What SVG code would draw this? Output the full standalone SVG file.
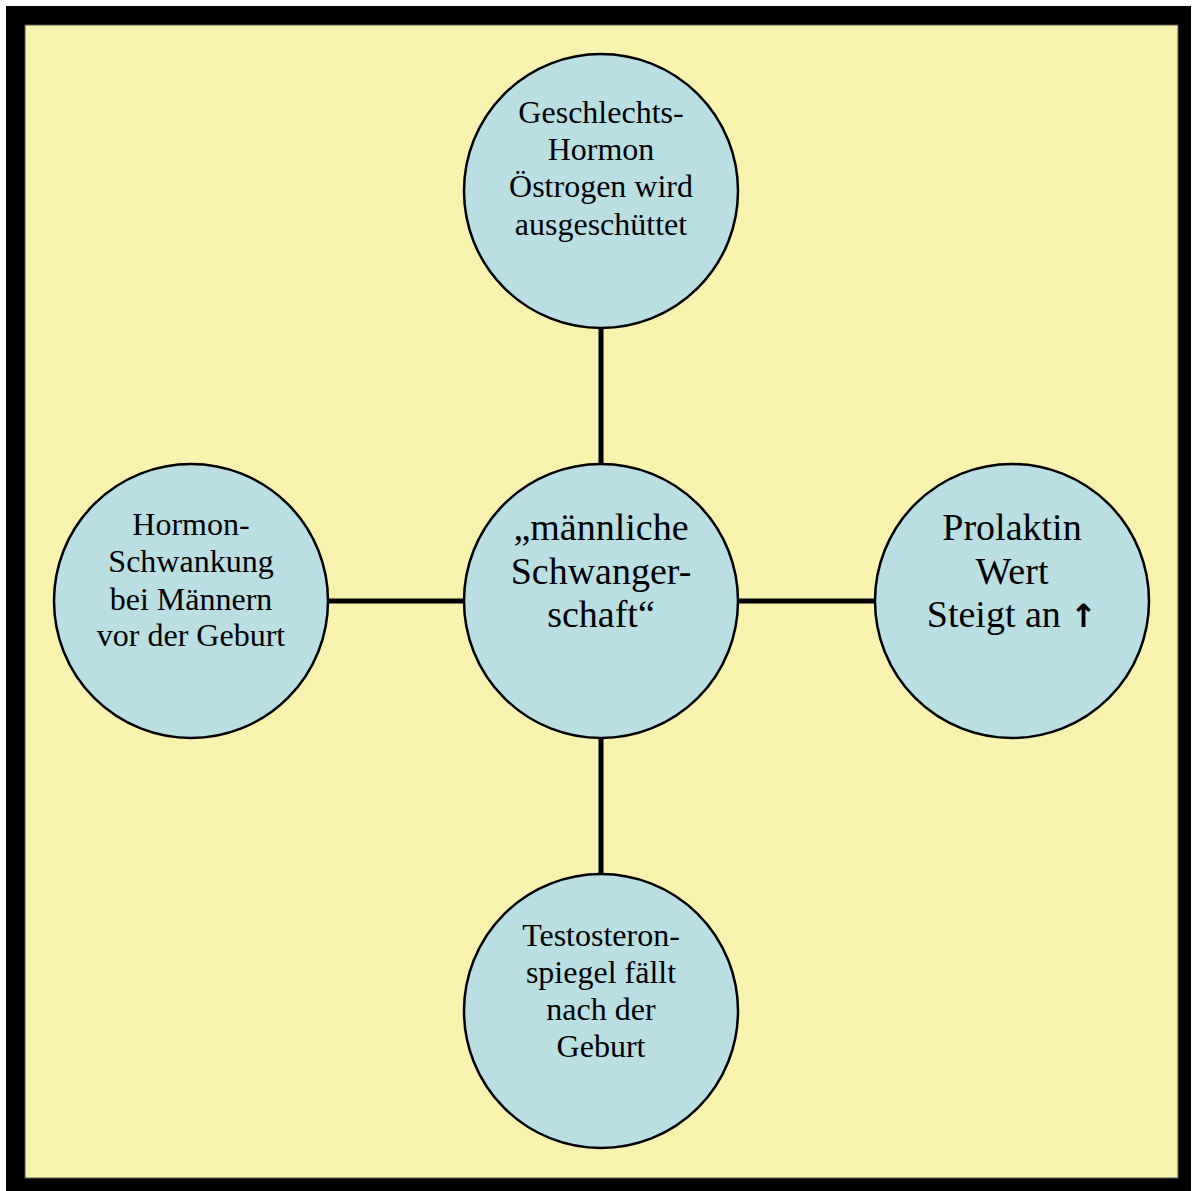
<svg xmlns="http://www.w3.org/2000/svg" width="1195" height="1191" viewBox="0 0 1195 1191">
<style>
.node{fill:#B9DFE3;stroke:#000;stroke-width:2.5}
.t{font-family:"Liberation Serif","Times New Roman",serif;font-size:32px;fill:#000;text-anchor:middle}
.tb{font-family:"Liberation Serif","Times New Roman",serif;font-size:38px;fill:#000;text-anchor:middle}
.c{stroke:#000;stroke-width:5;fill:none}
</style>
<rect x="6" y="6" width="1185" height="1185" fill="#000"/>
<rect x="25" y="25" width="1153" height="1153" fill="#F7F3AE" stroke="#555" stroke-width="1"/>
<g id="connectors">
<line class="c" x1="601" y1="328" x2="601" y2="465"/>
<line class="c" x1="601" y1="738" x2="601" y2="875"/>
<line class="c" x1="328" y1="601" x2="465" y2="601"/>
<line class="c" x1="738" y1="601" x2="875" y2="601"/>
</g>
<g id="center">
<circle class="node" cx="601" cy="601" r="137"/>
<text class="tb" x="601" y="540">„männliche</text>
<text class="tb" x="601" y="584">Schwanger-</text>
<text class="tb" x="601" y="627">schaft“</text>
</g>
<g id="top">
<circle class="node" cx="601" cy="191" r="137"/>
<text class="t" x="601" y="123">Geschlechts-</text>
<text class="t" x="601" y="160">Hormon</text>
<text class="t" x="601" y="197">Östrogen wird</text>
<text class="t" x="601" y="235">ausgeschüttet</text>
</g>
<g id="left">
<circle class="node" cx="191" cy="601" r="137"/>
<text class="t" x="191" y="535">Hormon-</text>
<text class="t" x="191" y="572">Schwankung</text>
<text class="t" x="191" y="610">bei Männern</text>
<text class="t" x="191" y="646">vor der Geburt</text>
</g>
<g id="right">
<circle class="node" cx="1012" cy="601" r="137"/>
<text class="tb" x="1012" y="540">Prolaktin</text>
<text class="tb" x="1012" y="584">Wert</text>
<text class="tb" x="1012" y="627">Steigt an <tspan font-family="DejaVu Sans,sans-serif" font-size="32" font-weight="bold">↑</tspan></text>
</g>
<g id="bottom">
<circle class="node" cx="601" cy="1011" r="137"/>
<text class="t" x="601" y="946">Testosteron-</text>
<text class="t" x="601" y="983">spiegel fällt</text>
<text class="t" x="601" y="1020">nach der</text>
<text class="t" x="601" y="1057">Geburt</text>
</g>
</svg>
